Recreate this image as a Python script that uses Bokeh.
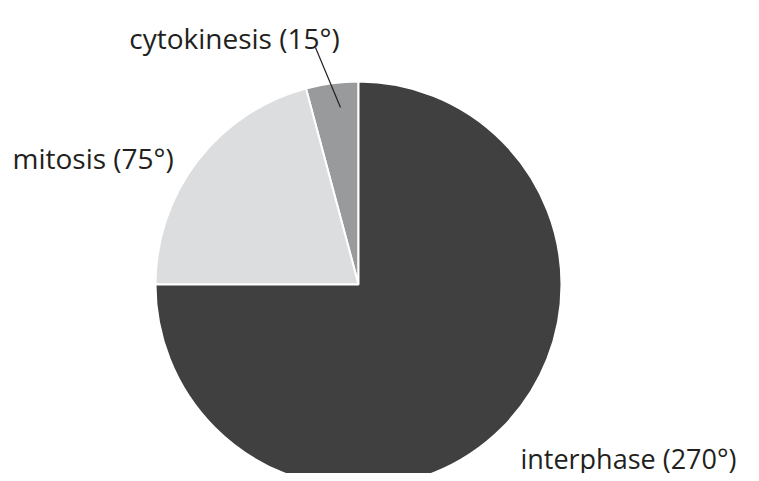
from bokeh.plotting import figure
from bokeh.models import Range1d, ColumnDataSource, Label
from bokeh.core.properties import value
from bokeh.embed import file_html
from bokeh.resources import INLINE
import numpy as np

phases = ["cytokinesis", "mitosis", "interphase"]
degrees = [15, 75, 270]
colors = ["#999a9c", "#dcdddf", "#404040"]
labels = ["cytokinesis (15°)", "mitosis (75°)", "interphase (270°)"]

W, H = 743, 473
def py(y_page):
    return H - y_page

p = figure(width=W, height=H, output_backend="svg", toolbar_location=None,
           x_range=Range1d(0, W), y_range=Range1d(0, H),
           min_border=0, outline_line_color=None)
p.axis.visible = False
p.grid.visible = False

ends = 90 + np.cumsum(degrees)
starts = ends - np.array(degrees)
src = ColumnDataSource(dict(start=np.radians(starts), end=np.radians(ends), color=colors))
p.wedge(x=358, y=py(284), radius=203, start_angle="start", end_angle="end",
        fill_color="color", line_color="white", line_width=2, source=src)

p.segment(x0=[315], y0=[py(47)], x1=[340], y1=[py(107)], line_color="#231f20", line_width=1.2)

font = "Open Sans"
positions = [(234, 37, "center", "28px"), (12, 157, "left", "28px"), (736, 458, "right", "27px")]
for lab, (x, y, align, fs) in zip(labels, positions):
    p.add_layout(Label(x=x, y=py(y), text=lab, text_font=font, text_font_size=fs,
                       text_align=align, text_baseline="alphabetic", text_color="#231f20"))

open("out.html", "w").write(file_html(p, INLINE))
